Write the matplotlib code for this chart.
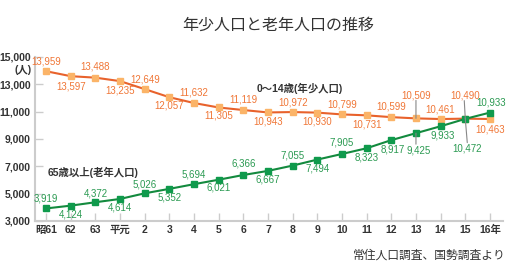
import matplotlib
matplotlib.use("Agg")
import matplotlib.pyplot as plt

plt.rcParams['font.family'] = ['Liberation Sans', 'Noto Sans CJK JP', 'DejaVu Sans']

# 年度ラベル
years = ['昭61', '62', '63', '平元', '2', '3', '4', '5', '6', '7', '8', '9',
         '10', '11', '12', '13', '14', '15', '16年']
# 年少人口 (0~14歳)
young = [13959, 13597, 13488, 13235, 12649, 12057, 11632, 11305, 11119, 10943,
         10972, 10930, 10799, 10731, 10599, 10509, 10461, 10490, 10463]
# 老年人口 (65歳以上)
old = [3919, 4124, 4372, 4614, 5026, 5352, 5694, 6021, 6366, 6667,
       7055, 7494, 7905, 8323, 8917, 9425, 9933, 10472, 10933]

# ラベルの上下位置 (ピクセル, マイナスが上)
young_off = [-10, 10, -11, 9, -10, 8, -11, 8, -11, 9, -10, 9, -10, 9, -11, -23, -10, -23, 10]
old_off = [-10, 9, -9, 9, -9, 9, -10, 8, -11, 9, -10, 9, -11, 9, 9, 17, 9, 30, -10]
old_dx = [0] * 14 + [1, 3, 2, 2, 1]

c_or_line = '#e8622c'
c_or_mark = '#fbb468'
c_or_text = '#f07636'
c_gr_line = '#138a3e'
c_gr_mark = '#0f9a4c'
c_gr_text = '#2b9a52'

fig = plt.figure(figsize=(5.21, 2.74), dpi=100)
ax = fig.add_axes([35/521, (274-221)/274, (503-35)/521, (221-57)/274])

x = list(range(len(years)))
ax.plot(x, young, color=c_or_line, lw=1.5, marker='s', ms=4.6,
        mfc=c_or_mark, mec=c_or_mark, zorder=3)
ax.plot(x, old, color=c_gr_line, lw=1.5, marker='s', ms=4.6,
        mfc=c_gr_mark, mec=c_gr_mark, zorder=3)

for i in x:
    ax.annotate(f'{young[i]:,}', (i, young[i]), xytext=(0, -young_off[i]),
                textcoords='offset pixels', ha='center', va='center',
                fontsize=7, color=c_or_text, zorder=4)
    ax.annotate(f'{old[i]:,}', (i, old[i]), xytext=(old_dx[i], -old_off[i]),
                textcoords='offset pixels', ha='center', va='center',
                fontsize=7, color=c_gr_text, zorder=4)

# 引き出し線
lead = dict(color='#888888', lw=0.8, zorder=2)
ax.annotate('', (15, young[15]), xytext=(0, 18), textcoords='offset pixels',
            arrowprops=dict(arrowstyle='-', shrinkA=0, shrinkB=0, **lead))
ax.annotate('', (17, young[17]), xytext=(-1, 18), textcoords='offset pixels',
            arrowprops=dict(arrowstyle='-', shrinkA=0, shrinkB=0, **lead))
ax.annotate('', (17, young[17]), xytext=(2, -24), textcoords='offset pixels',
            arrowprops=dict(arrowstyle='-', shrinkA=0, shrinkB=0, **lead))
ax.annotate('', (15, old[15]), xytext=(0, -11), textcoords='offset pixels',
            arrowprops=dict(arrowstyle='-', shrinkA=0, shrinkB=0, **lead))

ax.set_xlim(-0.45, 18.53)
ax.set_ylim(3000, 15000)
yt = [3000, 5000, 7000, 9000, 11000, 13000, 15000]
ax.set_yticks(yt)
ax.set_yticklabels([f'{v:,}' for v in yt])
ax.set_xticks(x)
ax.set_xticklabels(years)
ax.tick_params(axis='both', direction='in', length=6, width=1, color='#cccccc',
               labelsize=7.5, labelcolor='#333333')
ax.tick_params(axis='y', pad=3)
ax.tick_params(axis='x', pad=3)
for lab in ax.get_xticklabels() + ax.get_yticklabels():
    lab.set_fontweight('bold')

for s in ['top', 'right']:
    ax.spines[s].set_visible(False)
for s in ['left', 'bottom']:
    ax.spines[s].set_color('#cccccc')
    ax.spines[s].set_linewidth(1.5)

fig.text(278/521, 1 - 25/274, '年少人口と老年人口の推移', ha='center', va='center',
         fontsize=11.5, color='#333333', family=['Noto Sans CJK JP'])
fig.text(32/521, 1 - 70/274, '(人)', ha='right', va='center', fontsize=7.5,
         fontweight='bold', color='#333333')
ax.text(8.55, 12700, '0〜14歳(年少人口)', ha='left', va='center', fontsize=7.5,
        fontweight='bold', color='#333333')
ax.text(0.05, 6550, '65歳以上(老年人口)', ha='left', va='center', fontsize=7.5,
        fontweight='bold', color='#333333')
fig.text(506/521, 1 - 255/274, '常住人口調査、国勢調査より', ha='right', va='center',
         fontsize=8.5, color='#333333', family=['Noto Sans CJK JP'])

fig.savefig('out.png', dpi=100)
